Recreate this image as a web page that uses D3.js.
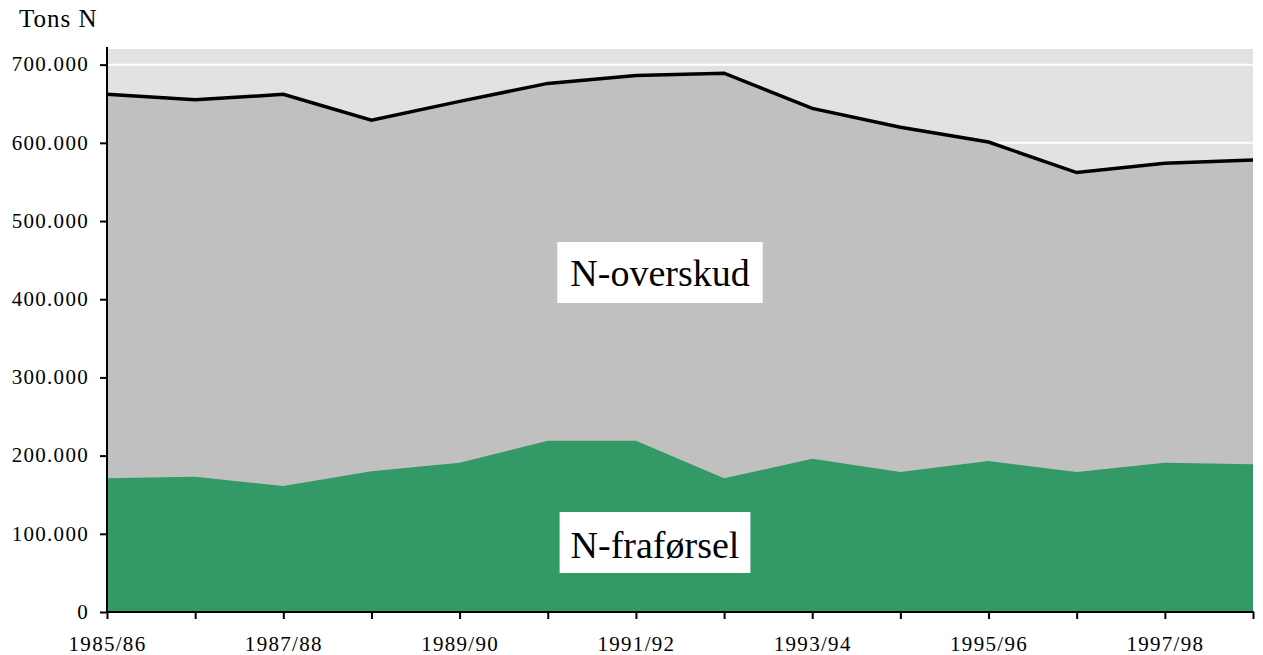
<!DOCTYPE html>
<html>
<head>
<meta charset="utf-8">
<script src="https://cdn.jsdelivr.net/npm/d3@7"></script>
<style>
  html, body { margin: 0; padding: 0; background: #ffffff; }
  svg { display: block; }
  text { font-family: "Liberation Serif", "Times New Roman", serif; fill: #000; }
</style>
</head>
<body>
<svg id="chart" width="1263" height="655"></svg>
<script>
// ---- data ----
const categories = ["1985/86","1986/87","1987/88","1988/89","1989/90","1990/91","1991/92",
                    "1992/93","1993/94","1994/95","1995/96","1996/97","1997/98","1998/99"];
const totalN   = [662000, 655000, 662000, 629000, 653000, 676000, 686000,
                  689000, 644000, 620000, 601000, 562000, 574000, 578000];
const fraforsel = [171000, 173000, 161000, 180000, 191000, 219000, 219000,
                   171000, 196000, 179000, 193000, 179000, 191000, 189000];
const yTicks = [0, 100000, 200000, 300000, 400000, 500000, 600000, 700000];
const xTickLabels = ["1985/86","1987/88","1989/90","1991/92","1993/94","1995/96","1997/98"];
const yTitle = "Tons N";
const labelOverskud = "N-overskud";
const labelFraforsel = "N-fraførsel";

(function () {
// ---- layout ----
const svg = d3.select("#chart");
const mLeft = 107, mRight = 1253, mTop = 49, mBottom = 612;

const x = d3.scalePoint().domain(categories).range([mLeft, mRight]);
const y = d3.scaleLinear().domain([0, 720000]).range([mBottom, mTop]);

const locale = d3.formatLocale({decimal: ",", thousands: ".", grouping: [3], currency: ["", ""]});
const fmt = locale.format(",");

// plot background
svg.append("rect")
  .attr("x", mLeft).attr("y", mTop)
  .attr("width", mRight - mLeft).attr("height", mBottom - mTop)
  .attr("fill", "#e2e2e2");

// gridlines
svg.append("g").selectAll("line").data(yTicks.filter(d => d > 0)).join("line")
  .attr("x1", mLeft).attr("x2", mRight)
  .attr("y1", d => y(d)).attr("y2", d => y(d))
  .attr("stroke", "#ffffff").attr("stroke-width", 2);

// areas
const rows = categories.map((c, i) => ({c, total: totalN[i], fra: fraforsel[i]}));
svg.append("path").datum(rows)
  .attr("fill", "#c0c0c0")
  .attr("d", d3.area().x(d => x(d.c)).y0(y(0)).y1(d => y(d.total)));
svg.append("path").datum(rows)
  .attr("fill", "#339966")
  .attr("d", d3.area().x(d => x(d.c)).y0(y(0)).y1(d => y(d.fra)));

// top line
svg.append("path").datum(rows)
  .attr("fill", "none").attr("stroke", "#000").attr("stroke-width", 3.5)
  .attr("stroke-linejoin", "miter")
  .attr("d", d3.line().x(d => x(d.c)).y(d => y(d.total)));

// y axis
const yAxis = svg.append("g").attr("transform", `translate(${mLeft},0)`)
  .call(d3.axisLeft(y).tickValues(yTicks).tickFormat(fmt).tickSize(7).tickPadding(11).tickSizeOuter(0));
yAxis.select(".domain").attr("stroke", "#000").attr("stroke-width", 2)
  .attr("d", `M0,${mTop - 2}V${mBottom}`);
yAxis.selectAll(".tick line").attr("stroke", "#000").attr("stroke-width", 2);
yAxis.selectAll(".tick text")
  .style("font-family", "'Liberation Serif', serif").style("font-size", "21px")
  .attr("letter-spacing", "1.3px").attr("dy", "0.3em").attr("fill", "#000");

// x axis
const xAxis = svg.append("g").attr("transform", `translate(0,${mBottom})`)
  .call(d3.axisBottom(x).tickSize(7).tickSizeOuter(0)
        .tickFormat(d => xTickLabels.includes(d) ? d : ""));
xAxis.select(".domain").attr("stroke", "#000").attr("stroke-width", 2)
  .attr("d", `M${mLeft - 1},0H${mRight + 1}`);
xAxis.selectAll(".tick line").attr("stroke", "#000").attr("stroke-width", 2);
xAxis.selectAll(".tick text")
  .style("font-family", "'Liberation Serif', serif").style("font-size", "21px")
  .attr("letter-spacing", "1.3px").attr("y", 39).attr("dy", 0).attr("fill", "#000");

// y title
svg.append("text").attr("x", 19).attr("y", 27)
  .style("font-size", "25px").attr("letter-spacing", "1px").text(yTitle);

// labels with white boxes
function boxLabel(txt, cx, baseline, padX, boxTop, boxH) {
  const g = svg.append("g");
  const rect = g.append("rect").attr("fill", "#fff");
  const t = g.append("text").attr("x", cx).attr("y", baseline)
    .attr("text-anchor", "middle").style("font-size", "38px").text(txt);
  const bb = t.node().getBBox();
  rect.attr("x", bb.x - padX).attr("width", bb.width + 2 * padX)
      .attr("y", boxTop).attr("height", boxH);
}
boxLabel(labelOverskud, 660, 286, 13, 242, 61);
boxLabel(labelFraforsel, 655, 558, 11, 512, 61);
})();
</script>
</body>
</html>
